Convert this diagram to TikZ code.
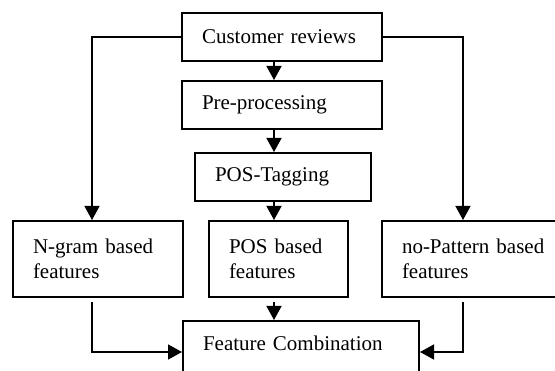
\documentclass[tikz,border=0pt]{standalone}
\usepackage{fontspec}
\setmainfont{Liberation Serif}
\usetikzlibrary{arrows.meta}
\begin{document}
\begin{tikzpicture}[x=1pt,y=-1pt,
  box/.style={draw, line width=2pt, anchor=north west, inner xsep=20pt, inner ysep=0pt,
    align=left, font=\fontsize{21}{25}\selectfont},
  conn/.style={line width=1.4pt},
  arr/.style={conn, -{Triangle[length=14pt,width=15pt]}}]
\useasboundingbox (0,0) rectangle (555,371);
\node[box, text width=160pt, minimum height=48pt] (cr) at (181,12) {Customer reviews};
\node[box, text width=160pt, minimum height=48pt] (pp) at (181,80) {Pre-processing};
\node[box, text width=136pt, minimum height=48pt] (pt) at (194,152) {POS-Tagging};
\node[box, text width=130pt, minimum height=76pt] (ng) at (12,220) {N-gram based\\features};
\node[box, text width=99pt, minimum height=76pt] (pb) at (208,220) {POS based\\features};
\node[box, text width=150pt, minimum height=76pt] (np) at (381,220) {no-Pattern based\\features};
\node[box, text width=196pt, minimum height=70pt, text height=30pt, text depth=40pt] (fc) at (182,320) {Feature Combination};
\coordinate (ax) at (274,0);
\coordinate (lx) at (92,0);
\coordinate (rx) at (463,0);
\draw[arr] (cr.south -| ax) -- (pp.north -| ax);
\draw[arr] (pp.south -| ax) -- (pt.north -| ax);
\draw[arr] (pt.south -| ax) -- (pb.north -| ax);
\draw[arr, shorten <=4pt] (pb.south -| ax) -- (fc.north -| ax);
\draw[arr] (cr.west) -| (ng.north -| lx);
\draw[arr] (cr.east) -| (np.north -| rx);
\draw[arr, shorten <=4pt] (ng.south -| lx) |- ([yshift=-32pt]fc.north west);
\draw[arr, shorten <=4pt] (np.south -| rx) |- ([yshift=-32pt]fc.north east);
\end{tikzpicture}
\end{document}
